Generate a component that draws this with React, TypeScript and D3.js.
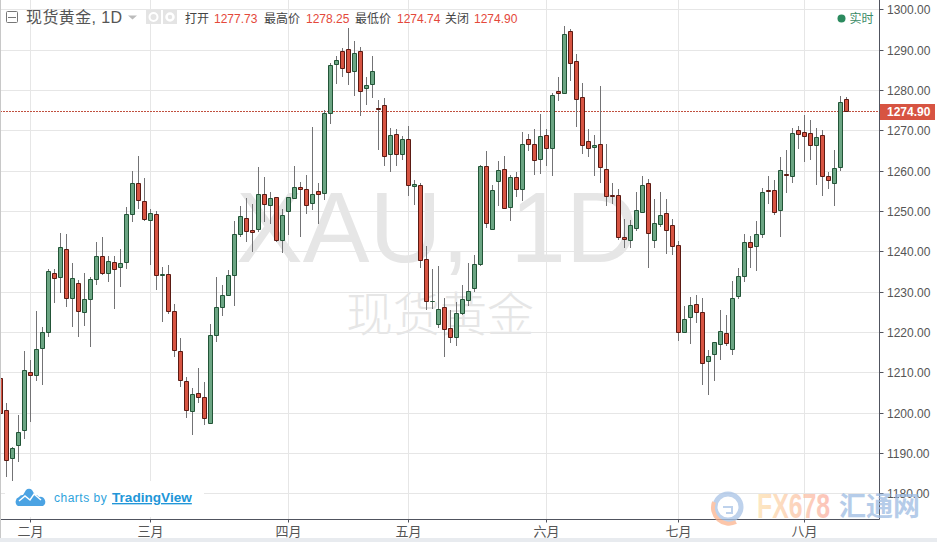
import React from "react";
import * as d3 from "d3";

const W = 937, H = 542;
const monthLabels = ["二月", "三月", "四月", "五月", "六月", "七月", "八月"];
const monthIndex = [5, 25, 48, 68, 91, 113, 134];
const priceTicks = [1300, 1290, 1280, 1270, 1260, 1250, 1240, 1230, 1220, 1210, 1200, 1190, 1180];
const lastPrice = 1274.9;

const opens = [
1208.6,1200.8,1188.9,1192.1,1195.6,1210.0,1209.3,1216.0,1219.9,1234.7,
1233.6,1240.7,1228.4,1232.2,1224.9,1228.1,1233.1,1238.9,1234.6,1237.3,
1236.1,1237.3,1249.2,1256.9,1252.4,1247.7,1249.2,1234.1,1234.3,1225.2,
1215.2,1207.8,1200.4,1204.8,1203.8,1197.4,1219.2,1226.1,1229.1,1234.1,
1244.2,1248.2,1245.2,1245.5,1254.2,1251.4,1253.4,1242.9,1250.0,1253.2,
1255.9,1255.4,1251.9,1254.9,1254.4,1274.3,1286.4,1289.6,1290.1,1284.7,
1289.6,1280.5,1281.4,1275.5,1276.2,1264.1,1269.0,1264.1,1267.8,1256.2,
1256.4,1238.0,1227.6,1221.9,1226.1,1220.9,1218.7,1224.7,1227.9,1230.9,
1236.8,1261.1,1245.5,1257.4,1260.4,1250.9,1258.4,1255.4,1267.8,1266.6,
1262.8,1268.8,1265.6,1279.7,1279.2,1294.6,1287.2,1278.2,1267.3,1265.8,
1266.6,1260.4,1253.9,1253.9,1243.5,1242.8,1245.7,1249.7,1256.9,1242.8,
1246.7,1249.5,1246.5,1241.5,1219.9,1223.7,1226.9,1224.9,1212.8,1214.5,
1217.0,1219.7,1215.7,1228.9,1233.8,1242.3,1241.3,1244.2,1255.2,1255.2,
1250.2,1259.1,1258.6,1270.0,1269.5,1269.3,1266.3,1268.8,1258.6,1256.9,
1260.9,1277.73];
const closes = [
1199.9,1188.4,1191.2,1195.1,1210.5,1209.3,1215.7,1219.9,1235.1,1233.3,
1241.2,1228.4,1233.5,1225.2,1228.3,1233.2,1238.9,1234.6,1237.6,1235.6,
1237.1,1249.2,1256.9,1252.7,1248.0,1249.5,1234.1,1234.3,1225.2,1215.5,
1208.0,1200.8,1204.6,1203.8,1198.6,1219.2,1226.1,1229.1,1234.1,1244.2,
1248.7,1245.0,1244.7,1254.2,1251.7,1253.2,1242.8,1249.0,1253.4,1255.9,
1255.4,1251.4,1254.2,1254.2,1274.3,1286.2,1287.4,1285.4,1284.4,1289.1,
1279.7,1281.2,1284.7,1275.2,1263.6,1268.8,1264.1,1267.8,1256.4,1256.6,
1237.8,1227.6,1227.7,1225.6,1220.7,1218.7,1224.7,1228.1,1230.1,1236.8,
1261.1,1247.0,1255.2,1260.1,1250.7,1258.4,1255.4,1266.6,1266.6,1262.6,
1268.6,1265.6,1278.7,1279.2,1293.8,1286.7,1277.7,1266.3,1265.6,1266.3,
1260.9,1253.7,1253.7,1243.5,1243.0,1246.5,1250.2,1256.4,1244.5,1247.0,
1249.0,1245.2,1241.3,1219.9,1223.2,1226.6,1224.9,1212.3,1214.0,1217.5,
1220.2,1217.2,1228.4,1233.8,1242.3,1241.0,1244.2,1254.7,1254.9,1249.7,
1260.1,1258.9,1269.3,1269.0,1268.6,1266.3,1268.3,1258.6,1257.6,1260.6,
1277.0,1274.9];
const highs = [
1208.6,1202.4,1191.6,1199.4,1215.3,1213.1,1225.2,1221.2,1235.6,1235.6,
1244.5,1244.3,1237.1,1232.9,1234.6,1233.7,1242.3,1243.5,1238.8,1238.8,
1240.5,1250.9,1259.9,1263.7,1258.1,1250.4,1250.0,1236.1,1236.6,1227.0,
1218.5,1208.8,1206.1,1211.0,1207.5,1221.9,1233.6,1231.6,1235.3,1247.5,
1251.3,1253.3,1251.8,1260.9,1258.4,1254.7,1253.6,1250.4,1253.6,1261.2,
1257.1,1259.0,1270.8,1256.9,1275.0,1286.7,1288.4,1290.4,1295.3,1292.1,
1290.6,1283.2,1288.4,1277.5,1278.0,1270.5,1270.4,1268.6,1271.0,1257.6,
1256.9,1241.3,1235.6,1236.4,1228.4,1225.4,1227.4,1231.6,1237.1,1239.0,
1261.4,1264.8,1256.4,1262.4,1263.6,1258.9,1259.6,1269.5,1269.0,1270.3,
1274.0,1270.3,1279.2,1283.2,1295.8,1295.1,1288.9,1281.7,1270.3,1268.8,
1281.0,1266.6,1256.9,1255.4,1248.0,1247.7,1254.7,1258.6,1257.9,1252.9,
1254.7,1252.9,1248.0,1242.5,1226.4,1228.6,1229.1,1228.4,1215.5,1217.5,
1225.4,1224.2,1232.6,1235.8,1244.2,1243.8,1247.5,1255.7,1258.7,1257.6,
1263.3,1265.1,1270.5,1271.0,1273.8,1272.5,1270.5,1270.0,1259.6,1265.1,
1278.5,1278.25];
const lows = [
1199.9,1184.4,1183.1,1188.1,1193.8,1198.0,1208.1,1207.2,1219.1,1227.5,
1230.0,1226.5,1221.6,1219.1,1221.8,1216.6,1232.0,1234.4,1232.7,1226.0,
1231.3,1235.8,1247.6,1250.8,1247.7,1236.9,1230.8,1222.8,1224.8,1214.1,
1206.7,1199.0,1194.8,1202.6,1197.3,1197.4,1217.9,1224.3,1229.1,1226.8,
1243.8,1242.7,1240.1,1245.1,1247.6,1247.1,1242.5,1239.9,1244.4,1253.2,
1243.7,1249.6,1250.6,1247.1,1253.1,1271.9,1281.8,1283.6,1281.4,1278.9,
1273.9,1276.6,1278.4,1265.5,1261.5,1260.0,1261.3,1263.0,1254.1,1251.8,
1236.1,1225.6,1225.9,1221.2,1214.1,1217.6,1216.9,1224.4,1226.8,1230.3,
1236.6,1246.0,1245.5,1251.6,1250.7,1247.9,1253.8,1252.8,1265.1,1259.3,
1259.5,1261.5,1259.0,1277.6,1279.2,1282.6,1271.2,1264.5,1263.6,1259.0,
1257.1,1251.4,1251.9,1243.0,1241.2,1241.0,1245.2,1249.7,1236.2,1241.2,
1246.3,1239.7,1239.3,1218.1,1219.9,1217.4,1222.6,1207.2,1204.7,1208.2,
1213.4,1216.7,1214.6,1228.4,1232.7,1236.1,1235.3,1243.5,1251.9,1249.2,
1243.7,1254.7,1257.2,1265.7,1262.5,1262.8,1256.8,1254.1,1255.8,1251.6,
1260.2,1274.74];

const legendItems = [
  { t: "打开", x: 185, c: "#444" },
  { t: "1277.73", x: 214, c: "#e4483a" },
  { t: "最高价", x: 264, c: "#444" },
  { t: "1278.25", x: 306, c: "#e4483a" },
  { t: "最低价", x: 355, c: "#444" },
  { t: "1274.74", x: 397, c: "#e4483a" },
  { t: "关闭", x: 445, c: "#444" },
  { t: "1274.90", x: 474, c: "#e4483a" },
];

const SANS = "'Liberation Sans','Noto Sans CJK SC',sans-serif";
const CJK = "'Noto Sans CJK SC',sans-serif";
const crisp = (v: number) => Math.floor(v) + 0.5;

export default function App() {
  const x = d3.scaleLinear().domain([0, 141]).range([0.5, 846.5]);
  const y = d3.scaleLinear().domain([1180, 1300]).range([493.9, 9.9]);
  const plotRight = 879.5, plotBottom = 519.5;
  const lastY = crisp(y(lastPrice));
  return (
    <svg width={W} height={H} viewBox={`0 0 ${W} ${H}`} style={{ position: "fixed", left: 0, top: 0, background: "#fff" }}>
      <defs>
        <linearGradient id="fxg" x1="0" x2="1" y1="0" y2="0">
          <stop offset="0" stopColor="#fde0ae" />
          <stop offset="1" stopColor="#fbb0a2" />
        </linearGradient>
      </defs>
      {/* grid */}
      {priceTicks.map((p) => (
        <line key={p} x1={0} x2={plotRight} y1={crisp(y(p))} y2={crisp(y(p))} stroke="#e6e6e6" />
      ))}
      {monthIndex.map((i) => (
        <line key={i} x1={crisp(x(i))} x2={crisp(x(i))} y1={0} y2={plotBottom} stroke="#e6e6e6" />
      ))}
      {/* watermark */}
      <text x={236} y={262} fontFamily={SANS} fontSize={100} wordSpacing={13} fill="#e6e6e6">XAU, 1D</text>
      <text x={440} y={331} textAnchor="middle" fontFamily={CJK} fontSize={47} fontWeight={300} fill="#e6e6e6">现货黄金</text>
      {/* last price line */}
      <line x1={0} x2={plotRight} y1={lastY} y2={lastY} stroke="#c0503f" strokeDasharray="2 1" />
      {/* candles */}
      {opens.map((o, i) => {
        const c = closes[i];
        const up = c >= o;
        const cx = crisp(x(i));
        const top = crisp(y(Math.max(o, c)));
        const bot = crisp(y(Math.min(o, c)));
        return (
          <g key={i}>
            <line x1={cx} x2={cx} y1={Math.floor(y(highs[i]))} y2={Math.ceil(y(lows[i]))} stroke="#737375" />
            <path
              d={`M${cx - 2} ${top}H${cx + 2}V${bot}H${cx - 2}Z`}
              fill={up ? "#6ba583" : "#d75442"}
              stroke={up ? "#225437" : "#5b1a13"}
            />
          </g>
        );
      })}
      {/* tradingview badge */}
      <rect x={5} y={481} width={199} height={36} fill="#fff" />
      <path d="M18 506 a5 5 0 0 1 1-9 a4 4 0 0 1 4-2 l3-5 a4 4 0 0 1 6 0 l3 5 a4 4 0 0 1 4 2 a5 5 0 0 1 4 9 Z" fill="#4ba3e3" />
      <path d="M19 501 L25 496 L30 500 L34 494 L41 500" fill="none" stroke="#fff" strokeWidth={1.5} />
      <text x={54} y={502} fontFamily={SANS} fontSize={12} letterSpacing={0.5} fill="#2ea3dc">charts by</text>
      <text x={112} y={502} fontFamily={SANS} fontSize={13.6} fontWeight={700} fill="#2196d8" textDecoration="underline">TradingView</text>
      {/* header */}
      <rect x={6.5} y={11.5} width={11} height={11} fill="none" stroke="#777" rx={1} />
      <line x1={8} x2={16} y1={17.5} y2={17.5} stroke="#777" />
      <text x={26} y={23} fontFamily={SANS} fontSize={16} letterSpacing={0.4} fill="#555">现货黄金, 1D</text>
      <path d="M128 15.5h9l-4.5 4z" fill="#bbb" />
      <rect x={146} y={10} width={15} height={14} fill="#e4e4e4" />
      <circle cx={153.5} cy={17} r={4} fill="none" stroke="#fff" strokeWidth={2} />
      <rect x={163} y={10} width={14} height={14} fill="#e4e4e4" />
      <circle cx={170} cy={17} r={3.5} fill="none" stroke="#fff" strokeWidth={2.5} />
      {legendItems.map((d) => (
        <text key={d.x} x={d.x} y={23} fontFamily={SANS} fontSize={12} fill={d.c}>{d.t}</text>
      ))}
      <circle cx={841.5} cy={18.5} r={4} fill="#2b8a5e" />
      <text x={849.5} y={23} fontFamily={CJK} fontSize={12} fill="#3a8a66">实时</text>
      {/* axes */}
      <line x1={plotRight} x2={plotRight} y1={0} y2={plotBottom} stroke="#50535e" />
      <line x1={0} x2={plotRight} y1={plotBottom} y2={plotBottom} stroke="#50535e" />
      <line x1={0.5} x2={0.5} y1={0} y2={542} stroke="#c8c8c8" />
      {priceTicks.map((p) => (
        <g key={p}>
          <line x1={plotRight} x2={plotRight + 4} y1={crisp(y(p))} y2={crisp(y(p))} stroke="#50535e" />
          <text x={887} y={crisp(y(p)) + 4} fontFamily={SANS} fontSize={12} fill="#555">{p.toFixed(2)}</text>
        </g>
      ))}
      {monthIndex.map((i, k) => (
        <g key={i}>
          <line x1={crisp(x(i))} x2={crisp(x(i))} y1={plotBottom} y2={plotBottom + 3} stroke="#50535e" />
          <text x={x(i)} y={535.5} textAnchor="middle" fontFamily={CJK} fontSize={13} fill="#555">{monthLabels[k]}</text>
        </g>
      ))}
      <rect x={880} y={104} width={55} height={16} fill="#d75442" />
      <text x={887} y={116} fontFamily={SANS} fontSize={12} fontWeight={700} fill="#fff">{lastPrice.toFixed(2)}</text>
      <rect x={0} y={538} width={W} height={4} fill="#e8ebef" />
      {/* FX678 mark */}
      <g opacity={0.75}>
        <circle cx={728} cy={507} r={13} fill="none" stroke="#a9c3e6" strokeWidth={5} />
        <path d="M714 502 a16 16 0 0 0 22 20" fill="none" stroke="#fbb48e" strokeWidth={4} />
        <path d="M723 507 h9 v6 h-6" fill="none" stroke="#a9c3e6" strokeWidth={2} />
        <text x={757} y={518} fontFamily={SANS} fontWeight={700} fontSize={35} fill="url(#fxg)" textLength={73} lengthAdjust="spacingAndGlyphs">FX678</text>
        <text x={839} y={516} fontFamily={CJK} fontWeight={700} fontSize={27} fill="#9dbbe2" textLength={81}>汇通网</text>
      </g>
    </svg>
  );
}
